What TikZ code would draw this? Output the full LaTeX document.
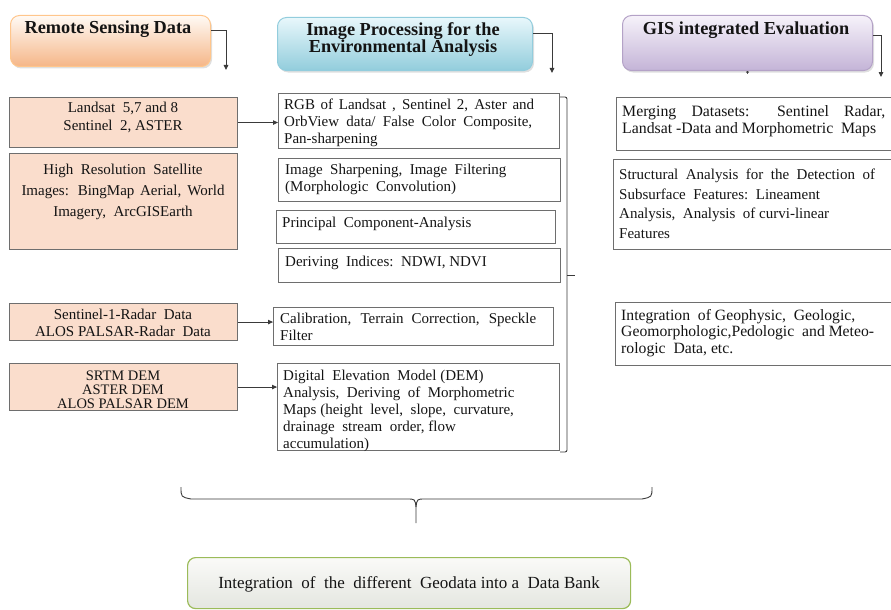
\documentclass[tikz,border=0pt]{standalone}
\usepackage{fontspec}
\setmainfont{Liberation Serif}
\usetikzlibrary{arrows.meta,calc,shadows}
\definecolor{boxline}{HTML}{6E6E6E}
\definecolor{peach}{HTML}{FADDCC}
\definecolor{txtcol}{HTML}{141414}
\definecolor{conncol}{HTML}{3A3A3A}
\begin{document}
\begin{tikzpicture}[x=1pt,y=-1pt,
  box/.style={draw=boxline, line width=1.1pt, anchor=north west, inner sep=0pt},
  srcbox/.style={box, fill=peach},
  txt/.style={anchor=north west, inner sep=0pt, font=\fontsize{15}{17}\selectfont, text=txtcol, align=left},
  ctxt/.style={txt, anchor=north, align=center},
  hdr/.style={anchor=north west, inner sep=0pt, line width=1pt, rounded corners=9pt,
     drop shadow={opacity=0.25, shadow xshift=1.5pt, shadow yshift=-2pt}},
  htxt/.style={anchor=north, inner sep=0pt, align=center, text=txtcol,
     font=\fontsize{18.3}{17}\selectfont\bfseries},
  conn/.style={draw=conncol, line width=0.9pt, -{Triangle[length=5pt,width=4.5pt]}},
  brk/.style={draw=conncol, line width=0.9pt}
]
\useasboundingbox (0,0) rectangle (891,610);
\clip (0,0) rectangle (891,610);

% ---------- headers ----------
\node[hdr, draw=orange!45, top color=orange!4, bottom color={rgb,255:red,245;green,182;blue,136},
  minimum width=200pt, minimum height=51pt] (h1) at (10,15) {};
\node[htxt] (h1t) at (108,21) {Remote Sensing Data};

\node[hdr, draw={rgb,255:red,147;green,205;blue,221}, top color={rgb,255:red,232;green,247;blue,251},
  bottom color={rgb,255:red,146;green,205;blue,220},
  minimum width=255pt, minimum height=53pt] (h2) at (277,17) {};
\node[htxt] (h2t) at (403,22) {Image Processing for the\\Environmental Analysis};

\node[hdr, draw={rgb,255:red,180;green,162;blue,199}, top color={rgb,255:red,246;green,242;blue,250},
  bottom color={rgb,255:red,196;green,180;blue,215},
  minimum width=250pt, minimum height=55pt] (h3) at (622,15) {};
\node[htxt] (h3t) at (746,22) {GIS integrated Evaluation};

\coordinate (h1e) at (226,70);
\coordinate (h2e) at (552,73);
\coordinate (h3e) at (881,77);
\draw[conn] ([yshift=10.5pt]h1.east) -| (h1e);
\draw[conn] ([yshift=10.5pt]h2.east) -| (h2e);
\draw[conn] ([yshift=7.5pt]h3.east) -| (h3e);
\draw[draw=conncol, line width=0.6pt, -{Triangle[length=2.5pt,width=3pt]}] (h3.south) -- ++(0,3);

% ---------- left column ----------
\node[srcbox, minimum width=228pt, minimum height=50pt] (l1) at (9,97) {};
\node[ctxt, font=\fontsize{15}{18}\selectfont] (l1t) at (123,102) {Landsat\ \ 5,7 and 8\\Sentinel\ \ 2, ASTER};

\node[srcbox, minimum width=228pt, minimum height=96pt] (l2) at (9,153) {};
\node[ctxt, font=\fontsize{15}{21}\selectfont] (l2t) at (123,164) {High\ \ Resolution\ \ Satellite\\\makebox[203pt][s]{Images: BingMap Aerial, World}\\Imagery,\ \ ArcGISEarth};

\node[srcbox, minimum width=228pt, minimum height=37pt] (l3) at (9,303) {};
\node[ctxt, font=\fontsize{15}{17}\selectfont] (l3t) at (123,309) {Sentinel-1-Radar\ \ Data\\ALOS PALSAR-Radar\ \ Data};

\node[srcbox, minimum width=228pt, minimum height=47pt] (l4) at (9,363) {};
\node[ctxt, font=\fontsize{14.5}{14}\selectfont] (l4t) at (123,371) {SRTM DEM\\ASTER DEM\\ALOS PALSAR DEM};

% ---------- middle column ----------
\node[box, minimum width=281pt, minimum height=55pt] (m1) at (278,93) {};
\node[txt] (m1t) at (284,99) {\makebox[250pt][s]{RGB of Landsat , Sentinel 2, Aster and}\\\makebox[248pt][s]{OrbView data/ False Color Composite,}\\Pan-sharpening};

\node[box, minimum width=282pt, minimum height=43pt] (m2) at (278,158) {};
\node[txt] (m2t) at (285,164) {Image\ \ Sharpening,\ \ Image\ \ Filtering\\(Morphologic\ \ Convolution)};

\node[box, minimum width=279pt, minimum height=33pt] (m3) at (276,210) {};
\node[txt] (m3t) at (282,217) {Principal\ \ Component-Analysis};

\node[box, minimum width=282pt, minimum height=34pt] (m4) at (278,248) {};
\node[txt] (m4t) at (285,256) {Deriving\ \ Indices:\ \ NDWI, NDVI};

\node[box, minimum width=280pt, minimum height=38pt] (m5) at (273,307) {};
\node[txt] (m5t) at (280,313) {\makebox[256pt][s]{Calibration, Terrain Correction, Speckle}\\Filter};

\node[box, minimum width=282pt, minimum height=87pt] (m6) at (277,363) {};
\node[txt] (m6t) at (283,370) {Digital\ \ Elevation\ \ Model (DEM)\\Analysis,\ \ Deriving\ \ of\ \ Morphometric\\Maps (height\ \ level,\ \ slope,\ \ curvature,\\drainage\ \ stream\ \ order, flow\\accumulation)};

\draw[conn] (l1.east) -- (l1.east -| m1.west);
\draw[conn] (l3.east) -- (l3.east -| m5.west);
\draw[conn] (l4.east) -- (l4.east -| m6.west);

% bracket right of middle column
\coordinate (bt) at (560,97);
\coordinate (btc) at (567,97);
\coordinate (bbc) at (567,452);
\coordinate (bb) at (560,452);
\coordinate (bm) at (567,275);
\coordinate (bmt) at (575,275);
\draw[brk, rounded corners=2pt] (bt) -- (btc) -- (bbc) -- (bb);
\draw[brk] (bm) -- (bmt);

% ---------- right column ----------
\node[box, minimum width=300pt, minimum height=53pt] (r1) at (616,97) {};
\node[txt, font=\fontsize{15.8}{17}\selectfont] (r1t) at (622,105) {\makebox[263pt][s]{Merging Datasets: Sentinel Radar,}\\Landsat -Data and Morphometric\ \ Maps};

\node[box, minimum width=300pt, minimum height=90pt] (r2) at (613,159) {};
\node[txt, font=\fontsize{15}{19.5}\selectfont] (r2t) at (619,169) {Structural\ \ Analysis\ \ for\ \ the\ \ Detection\ \ of\\Subsurface\ \ Features:\ \ Lineament\\Analysis,\ \ Analysis\ \ of curvi-linear\\Features};

\node[box, minimum width=300pt, minimum height=63pt] (r3) at (615,302) {};
\node[txt, font=\fontsize{15.7}{16.5}\selectfont] (r3t) at (621,309) {Integration\ \ of Geophysic,\ \ Geologic,\\Geomorphologic,Pedologic\ \ and Meteo-\\rologic\ \ Data, etc.};

% ---------- brace ----------
\coordinate (brl) at (181,487);
\coordinate (brr) at (652,487);
\coordinate (brm) at (416,507);
\coordinate (brtip) at (416,523);
\draw[brk] (brl) .. controls (181,497) .. (191,499) -- (407,499) .. controls (415,499) .. (brm) -- (brtip);
\draw[brk] (brr) .. controls (652,497) .. (642,499) -- (425,499) .. controls (417,499) .. (brm);

% ---------- bottom box ----------
\node[anchor=north west, inner sep=0pt, draw={rgb,255:red,155;green,187;blue,89}, line width=1.2pt,
  rounded corners=8pt, top color={rgb,255:red,250;green,250;blue,248}, bottom color={rgb,255:red,228;green,230;blue,224},
  minimum width=443pt, minimum height=51pt] (db) at (187,557) {};
\node[txt, anchor=center, font=\fontsize{17}{17}\selectfont] (dbt) at ([yshift=-1pt]db.center) {Integration\ \ of\ \ the\ \ different\ \ Geodata into a\ \ Data Bank};
\end{tikzpicture}
\end{document}
